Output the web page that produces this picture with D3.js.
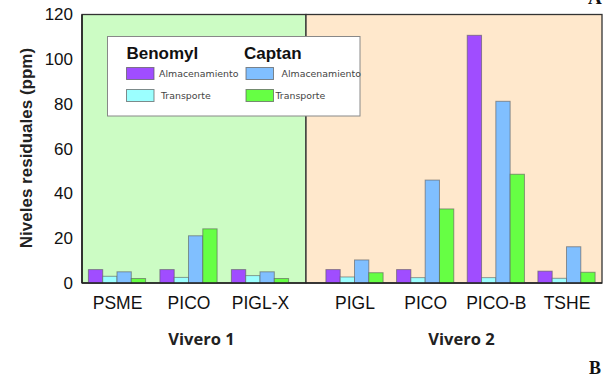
<!DOCTYPE html>
<html>
<head>
<meta charset="utf-8">
<script src="https://cdn.jsdelivr.net/npm/d3@7"></script>
<style>
  html, body { margin: 0; padding: 0; background: #fff; }
  svg { display: block; }
</style>
</head>
<body>
<svg id="chart" width="606" height="377"></svg>
<script>
// Residual fungicide levels (ppm) by species and nursery
const vivero1Categories = ["PSME", "PICO", "PIGL-X"];
const vivero2Categories = ["PIGL", "PICO", "PICO-B", "TSHE"];

// values listed per nursery, in the category order above
const benomylAlmacenamiento = [[6, 6, 6], [6, 6, 110.7, 5.3]];
const benomylTransporte     = [[3, 2.5, 3.3], [2.7, 2.4, 2.4, 2.1]];
const captanAlmacenamiento  = [[5, 21.1, 5], [10.3, 46, 81.2, 16.2]];
const captanTransporte      = [[2, 24.2, 2], [4.6, 33.1, 48.6, 4.8]];

const seriesKeys = ["benAlm", "benTra", "capAlm", "capTra"];
const seriesColors = ["#a04dff", "#9bffff", "#80bfff", "#66ff44"];
const yTicks = [0, 20, 40, 60, 80, 100, 120];
const panelLabels = ["Vivero 1", "Vivero 2"];

const svg = d3.select("#chart");
const plotLeft = 82, plotRight = 602, plotTop = 14.5, plotBottom = 283, divider = 306;

const y = d3.scaleLinear().domain([0, 120]).range([plotBottom, plotTop]);

const panels = [
  { cats: vivero1Categories, x0: plotLeft, x1: divider, bg: "#ccfcc4",
    range: [plotLeft + 35, divider - 46], label: panelLabels[0], labelX: 201.5 },
  { cats: vivero2Categories, x0: divider, x1: plotRight, bg: "#ffe8cc",
    range: [divider + 48.5, plotRight - 35.5], label: panelLabels[1], labelX: 461.5 }
];

const sub = d3.scaleBand().domain(seriesKeys).range([-28.6, 28.6]).padding(0);
const color = d3.scaleOrdinal().domain(seriesKeys).range(seriesColors);

// panel backgrounds
panels.forEach(p => {
  svg.append("rect")
    .attr("x", p.x0).attr("y", plotTop)
    .attr("width", p.x1 - p.x0).attr("height", plotBottom - plotTop)
    .attr("fill", p.bg)
    .attr("stroke", "#333").attr("stroke-width", 1.3);
});

// bars
panels.forEach((p, pi) => {
  const x = d3.scalePoint().domain(p.cats).range(p.range);
  const rows = p.cats.map((c, i) => ({
    cat: c,
    vals: [
      { key: "benAlm", v: benomylAlmacenamiento[pi][i] },
      { key: "benTra", v: benomylTransporte[pi][i] },
      { key: "capAlm", v: captanAlmacenamiento[pi][i] },
      { key: "capTra", v: captanTransporte[pi][i] }
    ]
  }));
  const g = svg.append("g").selectAll("g").data(rows).join("g")
    .attr("transform", d => `translate(${x(d.cat)},0)`);
  g.selectAll("rect").data(d => d.vals).join("rect")
    .attr("x", d => sub(d.key))
    .attr("y", d => y(d.v))
    .attr("width", sub.bandwidth())
    .attr("height", d => y(0) - y(d.v))
    .attr("fill", d => color(d.key))
    .attr("stroke", "rgba(90,90,90,0.6)")
    .attr("stroke-width", 1);

  // category labels
  const xAxis = d3.axisBottom(x).tickSize(0).tickPadding(14);
  const ax = svg.append("g").attr("transform", `translate(0,${plotBottom})`).call(xAxis);
  ax.select(".domain").remove();
  ax.selectAll("text")
    .attr("font-family", "Liberation Sans, Arial, sans-serif")
    .attr("font-size", 17.5).attr("fill", "#111");

  svg.append("text")
    .attr("x", p.labelX).attr("y", 345)
    .attr("text-anchor", "middle")
    .attr("font-family", "Open Sans, sans-serif")
    .attr("font-weight", 700).attr("font-size", 16.5)
    .attr("fill", "#222")
    .text(p.label);
});

// axes lines
svg.append("line").attr("x1", plotLeft).attr("x2", plotRight).attr("y1", plotBottom).attr("y2", plotBottom)
  .attr("stroke", "#222").attr("stroke-width", 1.6);
svg.append("line").attr("x1", plotLeft).attr("x2", plotLeft).attr("y1", plotTop).attr("y2", plotBottom)
  .attr("stroke", "#222").attr("stroke-width", 1.6);

// y axis
const yAxis = d3.axisLeft(y).tickValues(yTicks).tickSize(0).tickPadding(9);
const yg = svg.append("g").attr("transform", `translate(${plotLeft},0)`).call(yAxis);
yg.select(".domain").remove();
yg.selectAll("text")
  .attr("font-family", "Liberation Sans, Arial, sans-serif")
  .attr("font-size", 17).attr("fill", "#111");

svg.append("text")
  .attr("transform", `translate(32,148) rotate(-90)`)
  .attr("text-anchor", "middle")
  .attr("font-family", "Liberation Sans, Arial, sans-serif")
  .attr("font-weight", 700).attr("font-size", 17)
  .attr("fill", "#222")
  .text("Niveles residuales (ppm)");

// legend
const lg = svg.append("g");
lg.append("rect").attr("x", 107.5).attr("y", 36.5).attr("width", 252.5).attr("height", 79.5)
  .attr("fill", "#fff").attr("stroke", "#888").attr("stroke-width", 1);
const legendGroups = [
  { title: "Benomyl", tx: 126.5, sx: 126.5, items: [
      { key: "benAlm", label: "Almacenamiento", lx: 159 },
      { key: "benTra", label: "Transporte", lx: 161 } ] },
  { title: "Captan", tx: 244, sx: 246, items: [
      { key: "capAlm", label: "Almacenamiento", lx: 281.5 },
      { key: "capTra", label: "Transporte", lx: 275.5 } ] }
];
const rowY = [67.5, 89.5];
legendGroups.forEach(gr => {
  lg.append("text").attr("x", gr.tx).attr("y", 58.5)
    .attr("font-family", "Liberation Sans, Arial, sans-serif")
    .attr("font-weight", 700).attr("font-size", 17).attr("fill", "#111")
    .text(gr.title);
  gr.items.forEach((it, i) => {
    lg.append("rect").attr("x", gr.sx).attr("y", rowY[i])
      .attr("width", 27.5).attr("height", 12)
      .attr("fill", color(it.key)).attr("stroke", "rgba(90,90,90,0.7)").attr("stroke-width", 1);
    lg.append("text").attr("x", it.lx).attr("y", rowY[i] + 6)
      .attr("dominant-baseline", "central")
      .attr("font-family", "DejaVu Sans, sans-serif")
      .attr("font-size", 9.4).attr("fill", "#444")
      .text(it.label);
  });
});

// panel letters
svg.append("text").attr("x", 588).attr("y", 3.5)
  .attr("font-family", "Liberation Serif, serif").attr("font-weight", 700)
  .attr("font-size", 19).attr("fill", "#111").text("A");
svg.append("text").attr("x", 589).attr("y", 373.5)
  .attr("font-family", "Liberation Serif, serif").attr("font-weight", 700)
  .attr("font-size", 18).attr("fill", "#111").text("B");
</script>
</body>
</html>
